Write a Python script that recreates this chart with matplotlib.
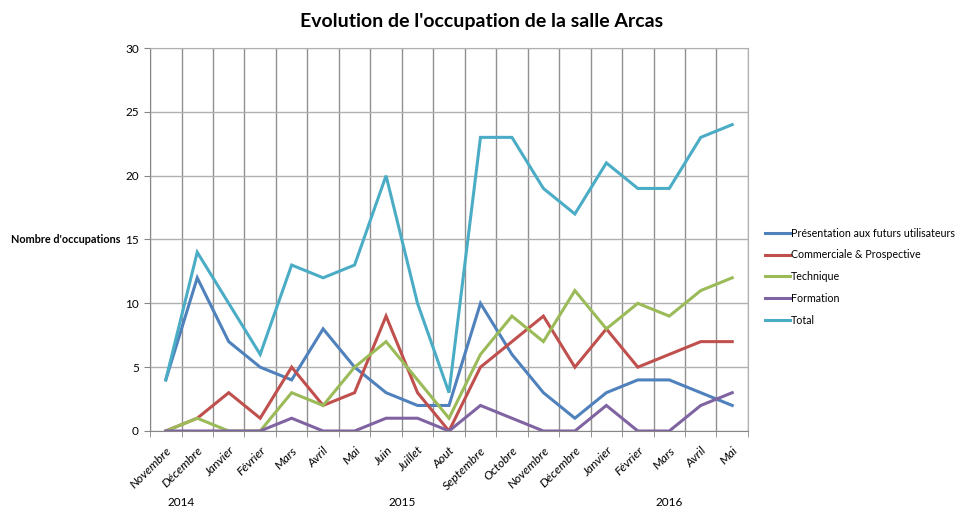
import numpy as np
import matplotlib.pyplot as plt
from matplotlib.transforms import blended_transform_factory

plt.rcParams['font.family'] = ['Lato', 'DejaVu Sans']

months = ['Novembre', 'Décembre', 'Janvier', 'Février', 'Mars', 'Avril', 'Mai',
          'Juin', 'Juillet', 'Aout', 'Septembre', 'Octobre', 'Novembre', 'Décembre',
          'Janvier', 'Février', 'Mars', 'Avril', 'Mai']
years = ['2014', '2015', '2016']
year_spans = [(0, 1), (2, 13), (14, 18)]

presentation = [4, 12, 7, 5, 4, 8, 5, 3, 2, 2, 10, 6, 3, 1, 3, 4, 4, 3, 2]
commerciale = [0, 1, 3, 1, 5, 2, 3, 9, 3, 0, 5, 7, 9, 5, 8, 5, 6, 7, 7]
technique = [0, 1, 0, 0, 3, 2, 5, 7, 4, 1, 6, 9, 7, 11, 8, 10, 9, 11, 12]
formation = [0, 0, 0, 0, 1, 0, 0, 1, 1, 0, 2, 1, 0, 0, 2, 0, 0, 2, 3]
total = [4, 14, 10, 6, 13, 12, 13, 20, 10, 3, 23, 23, 19, 17, 21, 19, 19, 23, 24]

series = [
    ('Présentation aux futurs utilisateurs', presentation, '#4F81BD'),
    ('Commerciale & Prospective', commerciale, '#C0504D'),
    ('Technique', technique, '#9BBB59'),
    ('Formation', formation, '#8064A2'),
    ('Total', total, '#4BACC6'),
]

fig = plt.figure(figsize=(9.63, 5.08), dpi=100)
ax = fig.add_axes([0.1558, 0.1516, 0.6209, 0.7539])

x = np.arange(len(months))
for name, vals, col in series:
    ax.plot(x, vals, color=col, lw=2.2, label=name, solid_joinstyle='miter')

ax.set_xlim(-0.5, len(months) - 0.5)
ax.set_ylim(0, 30)
ax.set_yticks(range(0, 31, 5))
ax.set_xticks(x)
ax.set_xticklabels(months, rotation=45, ha='right', va='top',
                   rotation_mode='anchor', fontstyle='italic', fontsize=8.8)
ax.set_xticks(np.arange(-0.5, len(months)), minor=True)
ax.tick_params(axis='x', which='major', length=0, pad=10)
ax.tick_params(axis='x', which='minor', length=4, color='#868686')
ax.tick_params(axis='y', length=4, color='#868686', labelsize=8.5, pad=4)

ax.grid(True, axis='y', color='#B0B0B0', lw=1)
ax.grid(True, axis='x', which='minor', color='#909090', lw=1)
ax.set_axisbelow(True)
for side in ['top', 'right']:
    ax.spines[side].set_color('#B0B0B0')
for side in ['left', 'bottom']:
    ax.spines[side].set_color('#868686')

# year labels under the month groups
trans = blended_transform_factory(ax.transData, fig.transFigure)
for yr, (a, b) in zip(years, year_spans):
    ax.text((a + b) / 2, 0.01, yr, transform=trans, ha='center', va='center',
            fontsize=8.5)

fig.text(0.011, 0.528, "Nombre d'occupations", fontsize=7.8, fontweight='bold',
         ha='left', va='center')
fig.text(0.5, 0.958, "Evolution de l'occupation de la salle Arcas", fontsize=14,
         fontweight='bold', ha='center', va='center')

ax.legend(loc='center left', bbox_to_anchor=(1.0, 0.403), frameon=False,
          fontsize=7.7, handlelength=2.3, handletextpad=0.15, labelspacing=1.0,
          borderaxespad=1.2)

fig.savefig('out.png', dpi=100)
